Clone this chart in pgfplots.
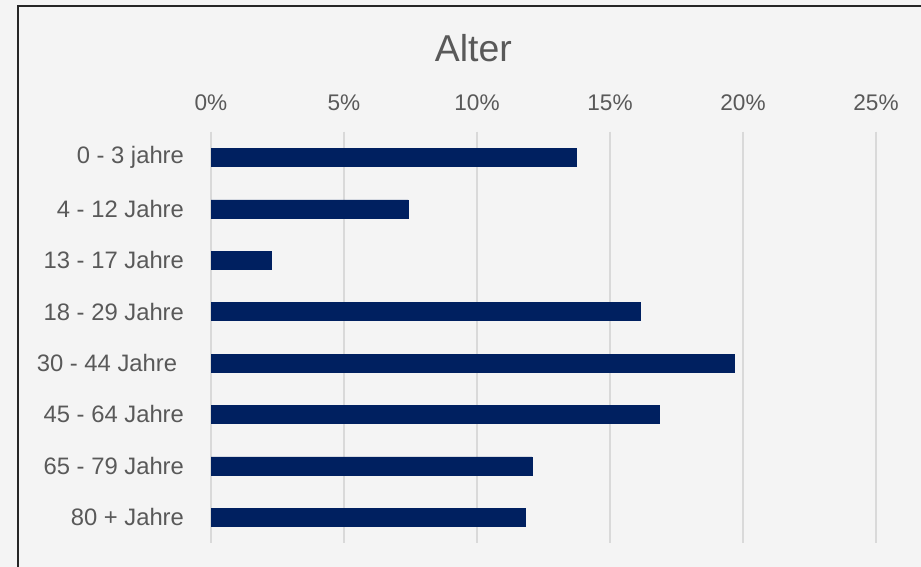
\documentclass[border=0pt]{standalone}
\usepackage{pgfplots}
\pgfplotsset{compat=1.18}
\usepackage{fontspec}
\setmainfont{Liberation Sans}
\definecolor{bg}{HTML}{F4F4F4}
\definecolor{barblue}{HTML}{002060}
\definecolor{txt}{HTML}{595959}
\definecolor{gridc}{HTML}{D9D9D9}
\begin{document}
\begin{tikzpicture}[x=1pt,y=1pt]
\fill[bg] (0,0) rectangle (460.5,283.5);
\useasboundingbox (0,0) rectangle (460.5,283.5);
\draw[line width=1pt,black!85] (9,0) -- (9,280.5) -- (460.5,280.5);
\node[text=txt,font=\fontsize{18.7}{22}\selectfont] at (236.7,259.3) {Alter};
\begin{axis}[
  at={(105.5pt,12pt)}, anchor=south west,
  scale only axis,
  width=332.5pt, height=205.7pt,
  xbar, bar width=9pt,
  xmin=0, xmax=25,
  ymin=-0.5, ymax=7.5,
  y dir=reverse,
  axis line style={draw=none},
  xtick={0,5,10,15,20,25},
  xticklabel pos=upper,
  xticklabels={0\%,5\%,10\%,15\%,20\%,25\%},
  ytick={0,1,2,3,4,5,6,7},
  yticklabels={0 - 3 jahre,4 - 12 Jahre,13 - 17 Jahre,18 - 29 Jahre,30 - 44 Jahre\kern3.4pt,45 - 64 Jahre,65 - 79 Jahre,80 + Jahre},
  major tick length=0pt,
  tick style={draw=none},
  xmajorgrids,
  grid style={gridc,line width=0.9pt},
  ticklabel style={text=txt},
  xticklabel style={yshift=7pt,font=\fontsize{11.3}{13}\selectfont},
  yticklabel style={xshift=-10pt,font=\fontsize{11.9}{13}\selectfont},
]
\addplot[fill=barblue,draw=barblue,line width=0.2pt] coordinates {
  (13.72,0) (7.41,1) (2.27,2) (16.15,3) (19.67,4) (16.84,5) (12.06,6) (11.80,7)
};
\end{axis}
\end{tikzpicture}
\end{document}
